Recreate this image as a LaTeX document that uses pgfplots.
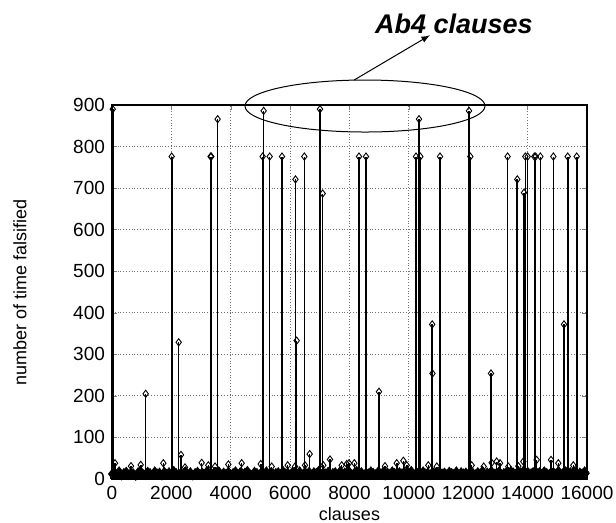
\documentclass[border=0pt]{standalone}
\usepackage{pgfplots}
\pgfplotsset{compat=1.18}
\usepackage{fontspec}
\setmainfont{Liberation Sans}
\begin{document}
\begin{tikzpicture}
\path[use as bounding box] (-56pt,-22pt) rectangle (252pt,239.5pt);
\begin{axis}[
  at={(0pt,0pt)}, anchor=south west,
  scale only axis, width=237.5pt, height=187pt,
  xmin=0, xmax=16000, ymin=0, ymax=900,
  xtick={0,2000,4000,6000,8000,10000,12000,14000,16000},
  ytick={0,100,200,300,400,500,600,700,800,900},
  scaled x ticks=false,
  /pgf/number format/1000 sep={},
  /pgf/number format/assume math mode=true,
  grid=major, major grid style={densely dotted, black!55, line width=0.4pt},
  tick align=inside, xtick pos=both, ytick pos=both,
  major tick length=2.5pt,
  axis line style={line width=0.6pt},
  tick label style={font=\fontsize{9.5}{11}\selectfont},
  xlabel={clauses}, ylabel={number of time falsified},
  label style={font=\fontsize{9}{11}\selectfont},
  xlabel style={at={(axis description cs:0.5,-0.094)}, anchor=center, inner sep=0pt},
  ylabel style={at={(axis description cs:-0.1937,0.5)}, anchor=center, inner sep=0pt},
  clip=false,
]
% dense low-level band
\addplot[ycomb, black, line width=1.6pt, mark=diamond*, mark size=2.4pt, mark options={fill=black, line width=0.3pt}] coordinates {
(0,12)(80,16)(160,11)(240,18)(320,9)(400,14)(480,17)(560,10)(640,15)(720,13)
(800,8)(880,16)(960,19)(1040,12)(1120,11)(1200,17)(1280,14)(1360,10)(1440,18)(1520,13)
(1600,15)(1680,9)(1760,17)(1840,12)(1920,16)(2000,11)(2080,19)(2160,14)(2240,10)(2320,15)
(2400,13)(2480,18)(2560,11)(2640,16)(2720,9)(2800,14)(2880,17)(2960,12)(3040,15)(3120,10)
(3200,19)(3280,13)(3360,11)(3440,16)(3520,14)(3600,18)(3680,10)(3760,15)(3840,12)(3920,17)
(4000,11)(4080,14)(4160,18)(4240,9)(4320,16)(4400,13)(4480,15)(4560,19)(4640,12)(4720,10)
(4800,17)(4880,14)(4960,11)(5040,16)(5120,13)(5200,18)(5280,10)(5360,15)(5440,12)(5520,14)
(5600,16)(5680,11)(5760,19)(5840,13)(5920,15)(6000,10)(6080,17)(6160,14)(6240,12)(6320,18)
(6400,11)(6480,15)(6560,13)(6640,17)(6720,10)(6800,16)(6880,14)(6960,19)(7040,12)(7120,15)
(7200,13)(7280,17)(7360,11)(7440,14)(7520,16)(7600,10)(7680,18)(7760,12)(7840,15)(7920,13)
(8000,17)(8080,11)(8160,14)(8240,19)(8320,12)(8400,16)(8480,10)(8560,15)(8640,13)(8720,18)
(8800,14)(8880,11)(8960,17)(9040,13)(9120,16)(9200,9)(9280,15)(9360,12)(9440,18)(9520,14)
(9600,10)(9680,16)(9760,13)(9840,17)(9920,11)(10000,15)(10080,19)(10160,12)(10240,14)(10320,16)
(10400,11)(10480,18)(10560,13)(10640,15)(10720,10)(10800,17)(10880,14)(10960,12)(11040,16)(11120,13)
(11200,15)(11280,11)(11360,17)(11440,14)(11520,12)(11600,18)(11680,10)(11760,16)(11840,13)(11920,15)
(12000,12)(12080,17)(12160,14)(12240,11)(12320,16)(12400,13)(12480,19)(12560,10)(12640,15)(12720,14)
(12800,17)(12880,12)(12960,15)(13040,18)(13120,11)(13200,14)(13280,16)(13360,13)(13440,19)(13520,15)
(13600,12)(13680,16)(13760,14)(13840,18)(13920,11)(14000,17)(14080,13)(14160,15)(14240,19)(14320,14)
(14400,16)(14480,12)(14560,18)(14640,14)(14720,11)(14800,17)(14880,15)(14960,13)(15040,19)(15120,12)
(15200,15)(15280,18)(15360,11)(15440,16)(15520,14)(15600,17)(15680,12)(15760,15)(15840,13)(15920,18)
(15960,14)
};
% stems with open diamonds
\addplot[ycomb, black, line width=0.8pt, mark=diamond, mark size=1.8pt, mark options={fill=white, line width=0.45pt}] coordinates {
(25,890)(101,38)(640,31)(967,34)(1135,205)(1729,38)(2011,776)(2246,329)(2324,58)(2459,28)
(3021,39)(3244,33)(3320,776)(3345,776)(3470,30)(3559,866)(3919,35)(4368,38)(5009,36)(5075,776)
(5108,886)(5311,776)(5379,30)(5726,776)(5918,33)(6165,30)(6180,721)(6220,333)(6479,776)(6501,33)
(6658,60)(7006,890)(7096,687)(7118,33)(7343,47)(7737,33)(7906,36)(7983,38)(8163,38)(8320,776)
(8556,776)(8993,210)(9196,31)(9590,38)(9814,44)(9927,33)(10240,776)(10341,866)(10385,776)(10655,33)
(10785,372)(10795,254)(10940,30)(11049,776)(12025,886)(12069,776)(12116,33)(12520,30)(12766,254)(12789,39)
(12957,42)(13070,38)(13325,776)(13350,30)(13652,721)(13686,31)(13855,42)(13878,689)(13922,776)(14001,776)
(14226,776)(14271,776)(14304,46)(14428,776)(14787,46)(14866,776)(15034,38)(15225,372)(15350,776)(15539,33)
(15653,776)
};
% annotation
\draw[line width=0.5pt] (axis cs:8522,897.6) ellipse [x radius=60pt, y radius=13pt];
\draw[line width=0.5pt, -latex] (axis cs:8152,960) -- (axis cs:10712,1068);
\node[font=\bfseries\itshape\fontsize{13.5}{15}\selectfont] at (axis cs:11520,1095) {Ab4 clauses};
\end{axis}
\end{tikzpicture}
\end{document}
